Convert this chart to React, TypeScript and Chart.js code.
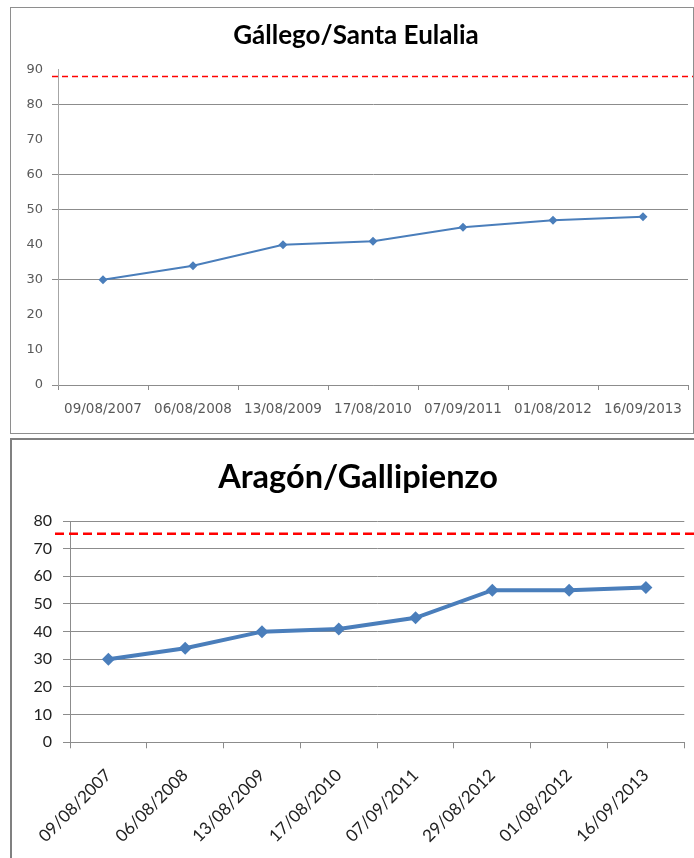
import React, { useEffect, useRef } from "react";
import { Chart, registerables } from "chart.js";

Chart.register(...registerables);

// ---------- Data ----------
const topTitle = "Gállego/Santa Eulalia";
const topDates = ["09/08/2007", "06/08/2008", "13/08/2009", "17/08/2010", "07/09/2011", "01/08/2012", "16/09/2013"];
const topValues = [30, 34, 40, 41, 45, 47, 48];
const topThreshold = 88;
const topYMax = 90;
const topVisibleGrid = [0, 30, 50, 60, 80];

const bottomTitle = "Aragón/Gallipienzo";
const bottomDates = ["09/08/2007", "06/08/2008", "13/08/2009", "17/08/2010", "07/09/2011", "29/08/2012", "01/08/2012", "16/09/2013"];
const bottomValues = [30, 34, 40, 41, 45, 55, 55, 56];
const bottomThreshold = 75.4;
const bottomYMax = 80;

const BLUE = "#4a7ebb";
const GRID = "#8c8c8c";

const thresholdPlugin = {
  id: "threshold",
  beforeDatasetsDraw(chart: any, _args: any, opts: any) {
    const y = chart.scales.y.getPixelForValue(opts.value);
    const ctx = chart.ctx;
    ctx.save();
    ctx.strokeStyle = opts.color;
    ctx.lineWidth = opts.width;
    ctx.setLineDash(opts.dash);
    ctx.beginPath();
    ctx.moveTo(chart.chartArea.left - opts.leftExtend, y);
    ctx.lineTo(chart.width, y);
    ctx.stroke();
    ctx.restore();
  },
};

function topConfig(): any {
  return {
    type: "line",
    data: {
      labels: topDates,
      datasets: [
        {
          data: topValues,
          borderColor: BLUE,
          backgroundColor: BLUE,
          borderWidth: 2,
          pointStyle: "rectRot",
          pointRadius: 4.5,
          pointBorderWidth: 0,
          tension: 0,
        },
      ],
    },
    plugins: [thresholdPlugin],
    options: {
      animation: false,
      responsive: false,
      layout: { padding: { left: 24, right: 6, top: 0, bottom: 0 } },
      plugins: {
        legend: { display: false },
        tooltip: { enabled: false },
        title: {
          display: true,
          text: topTitle,
          color: "#000",
          font: { family: "Lato", size: 26, weight: "bold" },
          padding: { top: 20.4, bottom: 17.8 },
        },
        threshold: { value: topThreshold, color: "#ff0000", width: 1.5, dash: [6, 4], leftExtend: 6 },
      },
      scales: {
        x: {
          offset: true,
          grid: { offset: true, drawOnChartArea: false, drawTicks: true, tickLength: 5, color: GRID },
          border: { color: GRID, width: 1 },
          ticks: {
            autoSkip: false,
            maxRotation: 0,
            minRotation: 0,
            padding: 11,
            color: "#595959",
            font: { family: "DejaVu Sans", size: 13.5 },
          },
          afterFit: (s: any) => {
            s.height = 51;
          },
        },
        y: {
          min: 0,
          max: topYMax,
          ticks: { stepSize: 10, padding: 9, color: "#595959", font: { family: "DejaVu Sans", size: 13 } },
          grid: {
            tickLength: 6,
            color: (c: any) => (c.tick && topVisibleGrid.includes(c.tick.value) ? GRID : "rgba(0,0,0,0)"),
          },
          border: { color: "#a6a6a6", width: 1 },
          afterFit: (s: any) => {
            s.width = 34;
          },
        },
      },
    },
  };
}

function bottomConfig(): any {
  return {
    type: "line",
    data: {
      labels: bottomDates,
      datasets: [
        {
          data: bottomValues,
          borderColor: BLUE,
          backgroundColor: BLUE,
          borderWidth: 4,
          pointStyle: "rectRot",
          pointRadius: 6.5,
          pointBorderWidth: 0,
          tension: 0,
        },
      ],
    },
    plugins: [thresholdPlugin],
    options: {
      animation: false,
      responsive: false,
      layout: { padding: { left: 31.7, right: 9.7, top: 0, bottom: 0 } },
      plugins: {
        legend: { display: false },
        tooltip: { enabled: false },
        title: {
          display: true,
          text: bottomTitle,
          color: "#000",
          font: { family: "Lato", size: 32.5, weight: "bold" },
          padding: { top: 22.5, bottom: 23.5 },
        },
        threshold: { value: bottomThreshold, color: "#ff0000", width: 2.5, dash: [9, 5], leftExtend: 15 },
      },
      scales: {
        x: {
          offset: true,
          grid: { offset: true, drawOnChartArea: false, drawTicks: true, tickLength: 6, color: GRID },
          border: { color: GRID, width: 1 },
          ticks: {
            autoSkip: false,
            maxRotation: 45,
            minRotation: 45,
            padding: 17,
            color: "#222",
            font: { family: "Lato", size: 17 },
          },
          afterFit: (s: any) => {
            s.height = 115.7;
          },
        },
        y: {
          min: 0,
          max: bottomYMax,
          ticks: { stepSize: 10, padding: 11, color: "#222", font: { family: "Lato", size: 16 } },
          grid: { tickLength: 7, color: GRID },
          border: { color: GRID, width: 1 },
          afterFit: (s: any) => {
            s.width = 38.3;
          },
        },
      },
    },
  };
}

function ChartCanvas(props: { make: () => any; left: number; top: number; width: number; height: number }) {
  const ref = useRef<HTMLCanvasElement | null>(null);
  useEffect(() => {
    if (!ref.current) return;
    const chart = new Chart(ref.current, props.make());
    return () => chart.destroy();
  }, []);
  return (
    <canvas
      ref={ref}
      width={props.width}
      height={props.height}
      style={{ position: "absolute", left: props.left, top: props.top, width: props.width, height: props.height }}
    />
  );
}

export default function App() {
  return (
    <div
      style={{
        position: "absolute",
        left: 0,
        top: 0,
        width: 694,
        height: 858,
        overflow: "hidden",
        background: "#fff",
      }}
    >
      <ChartCanvas make={topConfig} left={0} top={0} width={694} height={436} />
      <ChartCanvas make={bottomConfig} left={0} top={436} width={694} height={422} />
      <div
        style={{
          position: "absolute",
          left: 10,
          top: 7,
          width: 684,
          height: 427,
          boxSizing: "border-box",
          border: "1.5px solid #8e8e8e",
          pointerEvents: "none",
        }}
      />
      <div
        style={{
          position: "absolute",
          left: 10,
          top: 438,
          width: 690,
          height: 440,
          boxSizing: "border-box",
          border: "2px solid #808080",
          pointerEvents: "none",
        }}
      />
    </div>
  );
}
